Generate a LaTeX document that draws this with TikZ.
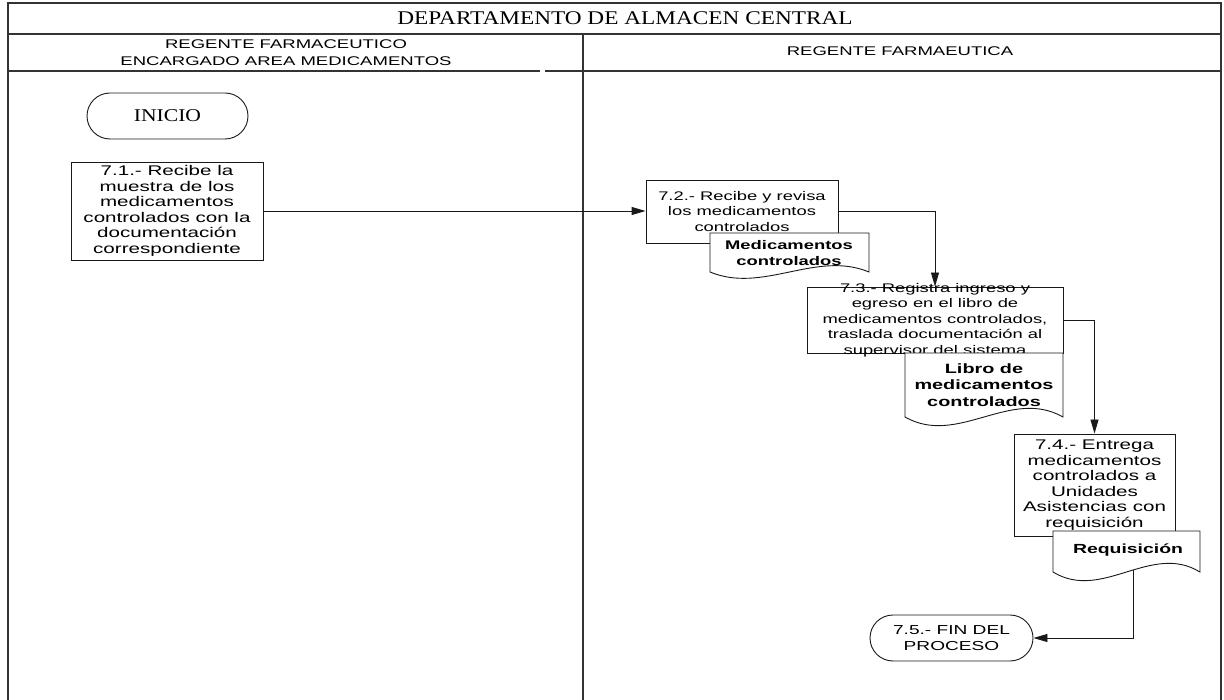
\documentclass[tikz,border=0pt]{standalone}
\usepackage{fontspec}
\usetikzlibrary{arrows.meta,shapes.misc}
\newfontfamily\titlefont{Liberation Serif}[FakeStretch=1.2]
\newfontfamily\bodyfont{Liberation Sans}[FakeStretch=1.47]
\pgfdeclarelayer{background}
\pgfsetlayers{background,main}

% document symbol: centre x, centre y, width, height, wave depth (y grows downward)
\newcommand\docoutline[5]{%
  \filldraw[docline] ({#1-#3/2},{#2-#4/2}) -- ({#1+#3/2},{#2-#4/2}) -- ({#1+#3/2},{#2+#4/2})
    .. controls ({#1+#3/6},{#2+#4/2-#5}) and ({#1-#3/6},{#2+#4/2+#5}) .. ({#1-#3/2},{#2+#4/2}) -- cycle;}

\tikzset{
  frameline/.style={draw=black!80, line width=1.3pt},
  stepbox/.style={draw=black!90, fill=white, line width=0.9pt, inner sep=0pt, align=center},
  bodysize/.style={font=\bodyfont\fontsize{#1}{15.5}\selectfont},
  steptext/.style={inner sep=0pt, align=center},
  terminal/.style={rounded rectangle, draw=black!90, fill=white, line width=0.9pt, inner sep=0pt},
  docline/.style={draw=black!90, fill=white, line width=0.9pt},
  doctext/.style={inner sep=0pt, font=\bodyfont\bfseries\fontsize{#1}{16.5}\selectfont, align=center},
  headtext/.style={inner sep=0pt, font=\bodyfont\fontsize{12.6}{16.5}\selectfont, align=center},
  flow/.style={draw=black!90, line width=0.9pt, -{Triangle[length=14pt,width=8pt]}}
}

\begin{document}
\begin{tikzpicture}[x=1pt,y=-1pt]
\useasboundingbox (0,0) rectangle (1224,700);

% swimlane frame
\begin{pgfonlayer}{background}
  \draw[frameline] (8,700) -- (8,3) -- (1221,3) -- (1221,700);
  \draw[frameline] (8,34) -- (1221,34);
  \draw[frameline] (8,71) -- (540,71);
  \draw[frameline] (545,71) -- (1221,71);
  \draw[frameline] (583,34) -- (583,700);
\end{pgfonlayer}

\node[inner sep=0pt, font=\titlefont\fontsize{19.4}{22}\selectfont] (title) at (625,18.5) {DEPARTAMENTO DE ALMACEN CENTRAL};
\node[headtext] (laneA) at (286,52.5) {REGENTE FARMACEUTICO\\ENCARGADO AREA MEDICAMENTOS};
\node[headtext] (laneB) at (900,51) {REGENTE FARMAEUTICA};

% process steps
\node[terminal, minimum width=161pt, minimum height=46pt, font=\titlefont\fontsize{18}{20}\selectfont] (inicio) at (167.5,116) {INICIO};

\node[stepbox, bodysize=14, minimum width=192pt, minimum height=98pt] (p71) at (167,211)
  {7.1.- Recibe la\\muestra de los\\medicamentos\\controlados con la\\documentación\\correspondiente};

\node[stepbox, bodysize=12.5, minimum width=192pt, minimum height=63pt] (p72) at (742,211.5)
  {7.2.- Recibe y revisa\\los medicamentos\\controlados};
\docoutline{789.5}{252.5}{159}{39}{22}
\node[doctext=12.5] (docA) at (789,253) {Medicamentos\\controlados};

\node[stepbox, minimum width=256pt, minimum height=66pt] (p73) at (935,320) {};
\node[steptext, bodysize=12.5] (p73t) at (p73.center)
  {7.3.- Registra ingreso y\\egreso en el libro de\\medicamentos controlados,\\traslada documentación al\\supervisor del sistema};
\docoutline{984}{385}{158}{64}{30}
\node[doctext=13.5] (docB) at (984,385) {Libro de\\medicamentos\\controlados};

\node[stepbox, bodysize=14, minimum width=161pt, minimum height=102pt] (p74) at (1094.5,485)
  {7.4.- Entrega\\medicamentos\\controlados a\\Unidades\\Asistencias con\\requisición};
\docoutline{1126.5}{551.5}{147}{41}{30}
\node[doctext=13.2] (docC) at (1128,550) {Requisición};

\node[terminal, bodysize=13, minimum width=163pt, minimum height=46pt, align=center] (fin) at (951.5,638)
  {7.5.- FIN DEL\\PROCESO};

% connectors
\begin{pgfonlayer}{background}
  \draw[flow] (p71.east) -- (p71.east -| p72.west);
  \draw[flow] (p72.east) -| (p73.north);
  \draw[flow] (p73.east) -| (p74.north);
  \draw[flow] ([xshift=5pt]docC.center) |- (fin.east);
\end{pgfonlayer}
\end{tikzpicture}
\end{document}
